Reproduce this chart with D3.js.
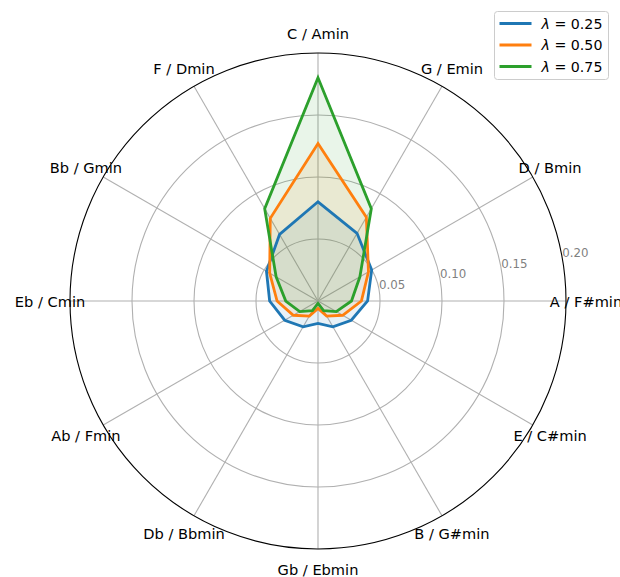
<!DOCTYPE html>
<html>
<head>
<meta charset="utf-8">
<script src="https://cdn.jsdelivr.net/npm/d3@7"></script>
<style>
  html, body { margin: 0; padding: 0; background: #fff; }
  svg { display: block; font-family: "DejaVu Sans", sans-serif; }
</style>
</head>
<body>
<svg id="chart" width="620" height="577"></svg>
<script>
// Keys around the circle of fifths, clockwise from the top
const keys = ["C / Amin", "G / Emin", "D / Bmin", "A / F#min", "E / C#min", "B / G#min",
              "Gb / Ebmin", "Db / Bbmin", "Ab / Fmin", "Eb / Cmin", "Bb / Gmin", "F / Dmin"];

// Weight per key for each smoothing parameter
const lambdas = ["0.25", "0.50", "0.75"];
const weights025 = [0.080, 0.063, 0.050, 0.040, 0.031, 0.024, 0.018, 0.024, 0.031, 0.039, 0.048, 0.062];
const weights050 = [0.127, 0.078, 0.047, 0.035, 0.023, 0.014, 0.006, 0.014, 0.023, 0.033, 0.045, 0.077];
const weights075 = [0.180, 0.086, 0.039, 0.027, 0.017, 0.009, 0.002, 0.009, 0.017, 0.026, 0.039, 0.086];
const seriesValues = [weights025, weights050, weights075];
const colors = ["#1f77b4", "#ff7f0e", "#2ca02c"];

const radialTicks = [0.05, 0.10, 0.15, 0.20];
const rMax = 0.20;

const svg = d3.select("#chart");
const cx = 318, cy = 301, R = 248;

const r = d3.scaleLinear().domain([0, rMax]).range([0, R]);
// the 12 keys spread evenly over the full circle
const step = 2 * Math.PI / keys.length;
const theta = k => keys.indexOf(k) * step;

const g = svg.append("g").attr("transform", `translate(${cx},${cy})`);

// radial grid circles
g.selectAll("circle.grid")
  .data(radialTicks.filter(t => t < rMax))
  .join("circle")
  .attr("class", "grid")
  .attr("r", d => r(d))
  .attr("fill", "none")
  .attr("stroke", "#b0b0b0")
  .attr("stroke-width", 1.1);

// spokes
g.selectAll("line.spoke")
  .data(keys)
  .join("line")
  .attr("x1", 0).attr("y1", 0)
  .attr("x2", d => r(rMax) * Math.sin(theta(d)))
  .attr("y2", d => -r(rMax) * Math.cos(theta(d)))
  .attr("stroke", "#b0b0b0")
  .attr("stroke-width", 1.1);

// series: filled polygon + outline
const line = d3.lineRadial()
  .angle((d, i) => i * step)
  .radius(d => r(d))
  .curve(d3.curveLinearClosed);

seriesValues.forEach((vals, i) => {
  g.append("path")
    .attr("d", line(vals))
    .attr("fill", colors[i])
    .attr("fill-opacity", 0.1)
    .attr("stroke", "none");
});
seriesValues.forEach((vals, i) => {
  g.append("path")
    .attr("d", line(vals))
    .attr("fill", "none")
    .attr("stroke", colors[i])
    .attr("stroke-width", 2.8)
    .attr("stroke-linejoin", "miter");
});

// outer frame
g.append("circle")
  .attr("r", R)
  .attr("fill", "none")
  .attr("stroke", "#000")
  .attr("stroke-width", 1.1);

// radial tick labels
const la = 10 * Math.PI / 180;
g.selectAll("text.rtick")
  .data(radialTicks)
  .join("text")
  .attr("class", "rtick")
  .attr("x", d => r(d) * Math.cos(la))
  .attr("y", d => -r(d) * Math.sin(la) - 1)
  .attr("font-size", 11.8)
  .attr("fill", "#808080")
  .text(d => d.toFixed(2));

// key labels
const labelR = 268;
g.selectAll("text.key")
  .data(keys)
  .join("text")
  .attr("class", "key")
  .attr("x", d => labelR * Math.sin(theta(d)))
  .attr("y", d => -labelR * Math.cos(theta(d)))
  .attr("text-anchor", "middle")
  .attr("dominant-baseline", "central")
  .attr("font-size", 14.6)
  .attr("fill", "#000")
  .text(d => d);

// legend
const lg = svg.append("g").attr("transform", "translate(494.5,11.5)");
lg.append("rect")
  .attr("width", 114).attr("height", 68)
  .attr("rx", 3)
  .attr("fill", "#fff").attr("fill-opacity", 0.8)
  .attr("stroke", "#cccccc").attr("stroke-width", 1);
lambdas.forEach((l, i) => {
  const y = 12 + i * 21.5;
  lg.append("line")
    .attr("x1", 5).attr("x2", 37)
    .attr("y1", y).attr("y2", y)
    .attr("stroke", colors[i]).attr("stroke-width", 2.8);
  const t = lg.append("text")
    .attr("x", 47).attr("y", y)
    .attr("dominant-baseline", "central")
    .attr("font-size", 14.2);
  t.append("tspan").attr("font-style", "italic").text("λ");
  t.append("tspan").text(" = " + l);
});
</script>
</body>
</html>
